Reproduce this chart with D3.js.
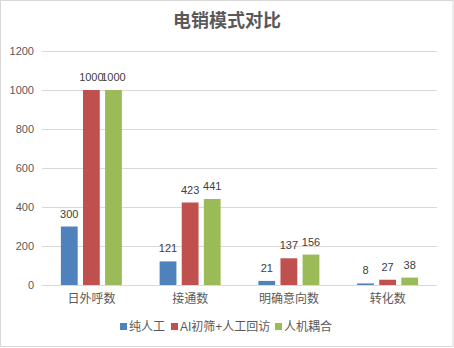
<!DOCTYPE html>
<html>
<head>
<meta charset="utf-8">
<script src="https://cdn.jsdelivr.net/npm/d3@7/dist/d3.min.js"></script>
<style>
  html, body { margin: 0; padding: 0; background: #fff; }
  svg { display: block; }
  text { font-family: "Liberation Sans", "Noto Sans CJK SC", sans-serif; }
</style>
</head>
<body>
<svg id="chart" width="454" height="348"></svg>
<script>
// Funnel stages and the three sales modes compared
const categories = ["日外呼数", "接通数", "明确意向数", "转化数"];
const seriesNames = ["纯人工", "AI初筛+人工回访", "人机耦合"];
const manualValues = [300, 121, 21, 8];
const aiScreenValues = [1000, 423, 137, 27];
const hybridValues = [1000, 441, 156, 38];
const yTicks = [0, 200, 400, 600, 800, 1000, 1200];
const colors = ["#4F81BD", "#C0504D", "#9BBB59"];
const title = "电销模式对比";

const seriesValues = [manualValues, aiScreenValues, hybridValues];

const svg = d3.select("#chart");
const W = 454;
const plot = { left: 42, right: 437, top: 51, bottom: 285 };

// outer frame
svg.append("rect")
  .attr("x", 0.5).attr("y", 0.5)
  .attr("width", W - 1.5).attr("height", 346)
  .attr("fill", "#fff").attr("stroke", "#d9d9d9").attr("stroke-width", 1);

svg.append("text")
  .attr("x", 227).attr("y", 27)
  .attr("text-anchor", "middle")
  .attr("font-family", "Noto Sans CJK SC")
  .attr("font-size", 18).attr("font-weight", 600)
  .attr("fill", "#595959")
  .text(title);

const y = d3.scaleLinear().domain([0, 1200]).range([plot.bottom, plot.top]);
const x0 = d3.scaleBand().domain(categories).range([plot.left, plot.right]).paddingInner(0).paddingOuter(0);
const x1 = d3.scaleBand().domain(d3.range(seriesNames.length)).range([0, 61]).paddingInner(0.24);

// gridlines + y axis labels
const yAxis = d3.axisLeft(y).tickValues(yTicks).tickFormat(d3.format("d"))
  .tickSize(-(plot.right - plot.left)).tickPadding(8);
const gy = svg.append("g").attr("transform", `translate(${plot.left},0)`).call(yAxis);
gy.select(".domain").remove();
gy.selectAll(".tick line").attr("stroke", "#d9d9d9").attr("stroke-width", 1)
  .attr("shape-rendering", "crispEdges");
gy.selectAll(".tick text").attr("fill", "#595959").attr("font-size", 11)
  .attr("font-family", "Liberation Sans");

// category axis labels
const xAxis = d3.axisBottom(x0).tickSize(0).tickPadding(9);
const gx = svg.append("g").attr("transform", `translate(0,${plot.bottom})`).call(xAxis);
gx.select(".domain").remove();
gx.selectAll(".tick text").attr("fill", "#595959").attr("font-size", 12)
  .attr("font-family", "Noto Sans CJK SC");

// bars
const groups = svg.append("g").selectAll("g")
  .data(categories)
  .join("g")
  .attr("transform", d => `translate(${x0(d) + x0.bandwidth() / 2 - 30.5},0)`);

groups.selectAll("rect")
  .data((d, i) => seriesValues.map((vals, s) => ({ s, v: vals[i] })))
  .join("rect")
  .attr("x", d => x1(d.s))
  .attr("width", x1.bandwidth())
  .attr("y", d => y(d.v))
  .attr("height", d => y(0) - y(d.v))
  .attr("fill", d => colors[d.s]);

groups.selectAll("text")
  .data((d, i) => seriesValues.map((vals, s) => ({ s, v: vals[i] })))
  .join("text")
  .attr("x", d => x1(d.s) + x1.bandwidth() / 2)
  .attr("y", d => y(d.v) - 9)
  .attr("text-anchor", "middle")
  .attr("font-size", 11)
  .attr("font-family", "Liberation Sans")
  .attr("fill", "#404040")
  .text(d => d.v);

// legend
const legendItems = [
  { x: 120, label: seriesNames[0] },
  { x: 171, label: seriesNames[1] },
  { x: 275, label: seriesNames[2] }
];
const lg = svg.append("g").selectAll("g")
  .data(legendItems)
  .join("g")
  .attr("transform", d => `translate(${d.x},0)`);
lg.append("rect")
  .attr("x", 0).attr("y", 323)
  .attr("width", 7).attr("height", 7)
  .attr("fill", (d, i) => colors[i]);
lg.append("text")
  .attr("x", 9).attr("y", 331)
  .attr("font-size", 12)
  .attr("font-family", "Noto Sans CJK SC")
  .attr("fill", "#595959")
  .text(d => d.label);
</script>
</body>
</html>
